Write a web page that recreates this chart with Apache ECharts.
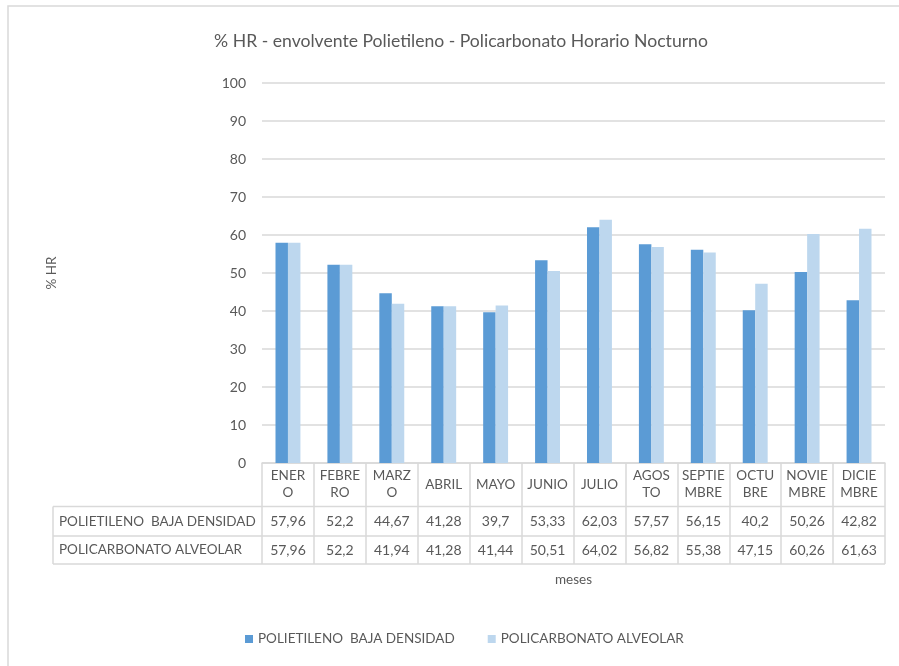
<!DOCTYPE html>
<html>
<head>
<meta charset="utf-8">
<script src="https://cdn.jsdelivr.net/npm/echarts@6/dist/echarts.min.js"></script>
<style>
  html, body { margin: 0; padding: 0; background: #ffffff; }
  #chart { width: 899px; height: 666px; }
</style>
</head>
<body>
<div id="chart"></div>
<script>
// Monthly relative humidity (night hours) for the two greenhouse envelopes
const months = ['ENERO', 'FEBRERO', 'MARZO', 'ABRIL', 'MAYO', 'JUNIO', 'JULIO',
  'AGOSTO', 'SEPTIEMBRE', 'OCTUBRE', 'NOVIEMBRE', 'DICIEMBRE'];
// Header cells wrap the same way the table cells do
const monthLabels = ['ENER\nO', 'FEBRE\nRO', 'MARZ\nO', 'ABRIL', 'MAYO', 'JUNIO', 'JULIO',
  'AGOS\nTO', 'SEPTIE\nMBRE', 'OCTU\nBRE', 'NOVIE\nMBRE', 'DICIE\nMBRE'];
const seriesNames = ['POLIETILENO  BAJA DENSIDAD', 'POLICARBONATO ALVEOLAR'];
const polietileno = [57.96, 52.2, 44.67, 41.28, 39.7, 53.33, 62.03, 57.57, 56.15, 40.2, 50.26, 42.82];
const policarbonato = [57.96, 52.2, 41.94, 41.28, 41.44, 50.51, 64.02, 56.82, 55.38, 47.15, 60.26, 61.63];
const yTicks = [0, 10, 20, 30, 40, 50, 60, 70, 80, 90, 100];

const FONT = 'Lato, "Open Sans", sans-serif';
const FS = 13.5;
const TEXT = '#595959';
const LINE = '#D9D9D9';

// Plot/table geometry
const G = { left: 262, right: 885, top: 83, bottom: 463 };
const tableLeft = 53;
const rowLines = [506.5, 536, 564];

const fmt = v => String(v).replace('.', ',');

const chart = echarts.init(document.getElementById('chart'), null, { renderer: 'canvas' });

const valueAxis = (data, margin) => ({
  type: 'category',
  data: months,
  position: 'bottom',
  gridIndex: 0,
  axisLine: { show: false },
  axisTick: { show: false },
  splitLine: { show: false },
  axisLabel: {
    interval: 0,
    margin: margin,
    verticalAlign: 'middle',
    color: TEXT,
    fontFamily: FONT,
    fontSize: 14,
    formatter: (v, i) => fmt(data[i])
  }
});

chart.setOption({
  animation: false,
  backgroundColor: '#ffffff',
  textStyle: { fontFamily: FONT },
  title: {
    text: '% HR - envolvente Polietileno - Policarbonato Horario Nocturno',
    left: 456,
    textAlign: 'center',
    top: 27,
    textStyle: { color: TEXT, fontFamily: FONT, fontSize: 17.6, fontWeight: 'normal' }
  },
  legend: {
    left: 245,
    top: 632,
    padding: 0,
    itemWidth: 8,
    itemHeight: 8,
    itemGap: 33,
    icon: 'rect',
    textStyle: { color: TEXT, fontFamily: FONT, fontSize: FS },
    data: seriesNames
  },
  grid: {
    left: G.left,
    right: 899 - G.right,
    top: G.top,
    bottom: 666 - G.bottom,
    containLabel: false
  },
  xAxis: [
    {
      type: 'category',
      data: months,
      position: 'bottom',
      axisLine: { show: true, lineStyle: { color: LINE, width: 1.5 } },
      axisTick: { show: true, alignWithLabel: false, length: rowLines[2] - G.bottom, lineStyle: { color: LINE, width: 1.5 } },
      axisLabel: {
        interval: 0,
        margin: 21.5,
        verticalAlign: 'middle',
        align: 'center',
        lineHeight: 17,
        color: TEXT,
        fontFamily: FONT,
        fontSize: FS,
        formatter: (v, i) => monthLabels[i]
      },
      name: 'meses',
      nameLocation: 'middle',
      nameGap: 117,
      nameTextStyle: { color: TEXT, fontFamily: FONT, fontSize: FS, verticalAlign: 'middle' }
    },
    valueAxis(polietileno, 58),
    valueAxis(policarbonato, 87)
  ],
  yAxis: {
    type: 'value',
    min: yTicks[0],
    max: yTicks[yTicks.length - 1],
    interval: 10,
    axisLine: { show: false },
    axisTick: { show: false },
    axisLabel: { color: TEXT, fontFamily: FONT, fontSize: 14, margin: 16 },
    splitLine: { lineStyle: { color: LINE, width: 1.5 } },
    name: '% HR',
    nameLocation: 'middle',
    nameGap: 203,
    nameRotate: 90,
    nameTextStyle: { color: TEXT, fontFamily: FONT, fontSize: FS }
  },
  series: [
    {
      name: seriesNames[0],
      type: 'bar',
      xAxisIndex: 0,
      data: polietileno,
      itemStyle: { color: '#5B9BD5' },
      barGap: '0%',
      barCategoryGap: '52%'
    },
    {
      name: seriesNames[1],
      type: 'bar',
      xAxisIndex: 0,
      data: policarbonato,
      itemStyle: { color: '#BDD7EE' },
      barGap: '0%',
      barCategoryGap: '52%'
    }
  ],
  graphic: [
    // chart area frame
    { type: 'rect', shape: { x: 8, y: 6, width: 900, height: 700 },
      style: { fill: null, stroke: LINE, lineWidth: 1.5 }, silent: true },
    // data table: horizontal rules and left edge of the row-label column
    ...rowLines.map(y => ({
      type: 'line', shape: { x1: tableLeft, y1: y, x2: G.right, y2: y },
      style: { stroke: LINE, lineWidth: 1.5 }, silent: true
    })),
    { type: 'line', shape: { x1: tableLeft, y1: rowLines[0], x2: tableLeft, y2: rowLines[2] },
      style: { stroke: LINE, lineWidth: 1.5 }, silent: true },
    // row labels
    ...seriesNames.map((n, i) => ({
      type: 'text',
      x: 59,
      y: (rowLines[i] + rowLines[i + 1]) / 2,
      style: { text: n, fill: TEXT, font: FS + 'px ' + FONT, textVerticalAlign: 'middle', verticalAlign: 'middle' },
      silent: true
    }))
  ]
});
</script>
</body>
</html>
